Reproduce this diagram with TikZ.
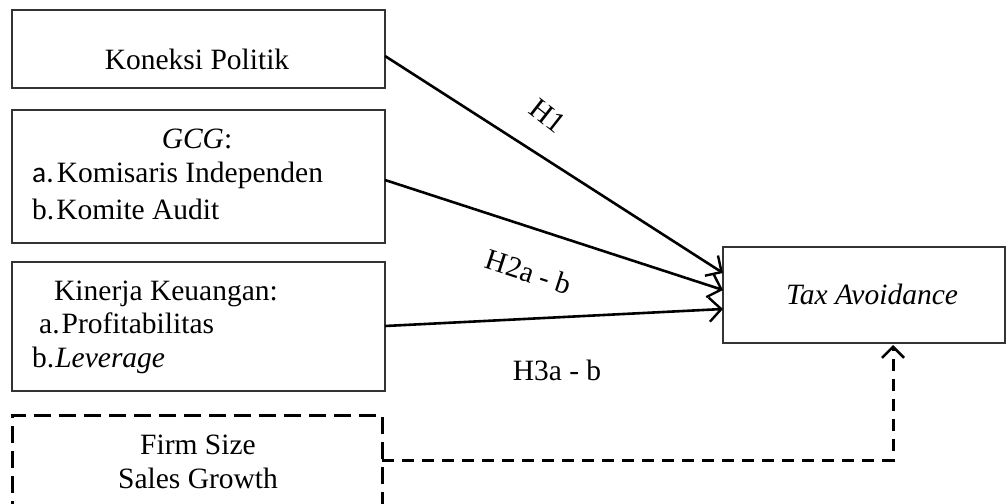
\documentclass[tikz,border=0pt]{standalone}
\usepackage{fontspec}
\setmainfont{Liberation Serif}
\newfontfamily\calfont{Carlito}
\usetikzlibrary{arrows.meta}
\begin{document}
\begin{tikzpicture}[x=1pt,y=-1pt,
  box/.style={draw=black!80,line width=1.1pt,minimum width=#1,inner sep=0pt,fill=none},
  lbl/.style={inner sep=0pt,font=\fontsize{29.5}{35}\selectfont},
  conn/.style={line width=2.6pt,-{Straight Barb[length=12pt,width=24pt,line width=2.4pt]}},
  dconn/.style={line width=3pt,dash pattern=on 12pt off 8pt,-{Straight Barb[length=11pt,width=22pt,line width=2.6pt]}}]
\useasboundingbox (0,0) rectangle (1008,503);
\fill[white] (0,0) rectangle (1008,503);
\clip (0,0) rectangle (1008,503);
% boxes
\node[box=373pt,minimum height=78pt] (b1) at (198.5,49) {};
\node[box=373pt,minimum height=133pt] (b2) at (198.5,176.5) {};
\node[box=373pt,minimum height=129pt] (b3) at (198.5,326.5) {};
\node[draw,line width=3pt,dash pattern=on 17pt off 8pt,minimum width=370pt,minimum height=124pt,inner sep=0pt] (b4) at (197,477) {};
\node[box=282pt,minimum height=96pt] (t) at (864,295) {};
% texts
\node[lbl,anchor=base] (k1) at (197,69) {Koneksi Politik};
\node[lbl,anchor=base] (g0) at (197,148) {\textit{GCG}:};
\node[lbl,anchor=base west] (g1) at (32,182) {{\calfont a.}\hspace{3pt}Komisaris Independen};
\node[lbl,anchor=base west] (g2) at (32,219) {b.\hspace{2pt}Komite Audit};
\node[lbl,anchor=base] (f0) at (166,300) {Kinerja Keuangan:};
\node[lbl,anchor=base west] (f1) at (39,333) {a.\hspace{2pt}Profitabilitas};
\node[lbl,anchor=base west] (f2) at (32,367) {b.\hspace{1pt}\textit{Leverage}};
\node[lbl,anchor=base] (c1) at (198,454) {Firm Size};
\node[lbl,anchor=base] (c2) at (198,488) {Sales Growth};
\node[lbl,anchor=base] (ta) at (872,304) {\textit{Tax Avoidance}};
% connectors
\coordinate (s1) at (385,56);
\coordinate (s2) at (385,180);
\coordinate (s3) at (385,326);
\coordinate (e1) at (723,273);
\coordinate (e2) at (723,290);
\coordinate (e3) at (723,309);
\coordinate (s4) at (382,460);
\coordinate (corner) at (893,460);
\coordinate (e4) at (893,345);
\draw[conn] (s1) -- (e1);
\draw[conn] (s2) -- (e2);
\draw[conn] (s3) -- (e3);
\draw[dconn] (s4) -- (corner) -- (e4);
% labels
\node[lbl,rotate=-38] (h1) at (548,116) {H1};
\node[lbl,rotate=-18] (h2) at (529,272) {H2a - b};
\node[lbl,anchor=base] (h3) at (557,380) {H3a - b};
\end{tikzpicture}
\end{document}
